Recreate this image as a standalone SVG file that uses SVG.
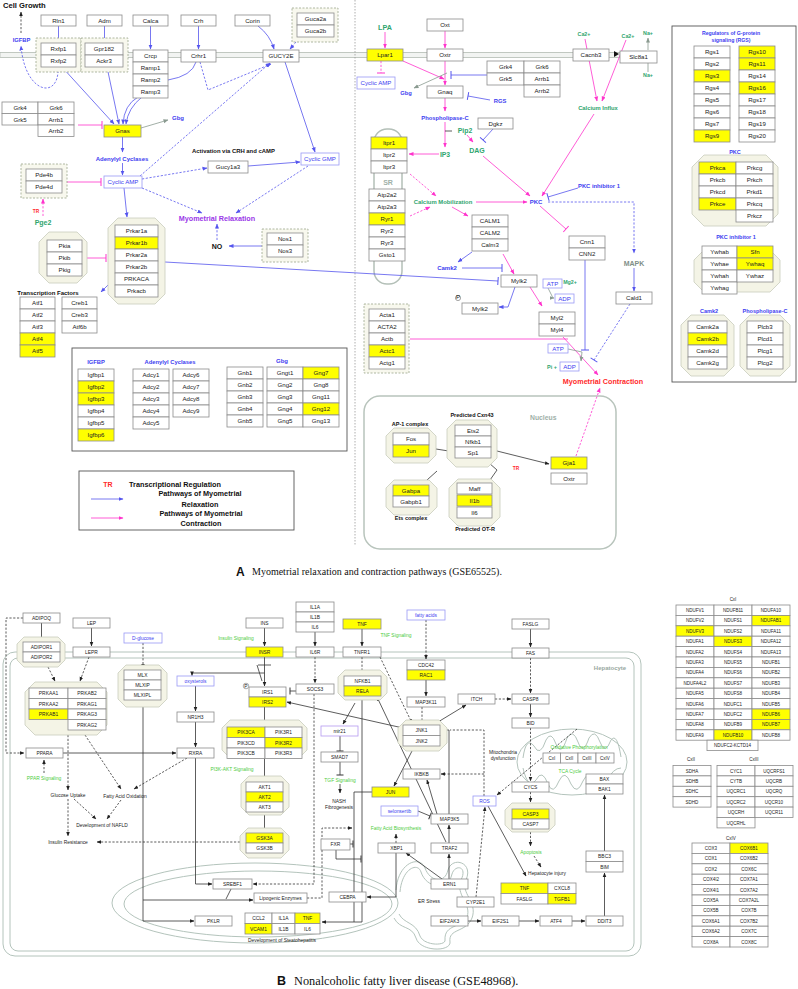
<svg xmlns="http://www.w3.org/2000/svg" width="798" height="989" viewBox="0 0 798 989">
<style>
text{font-family:"Liberation Sans",Arial,sans-serif}
.b{fill:#fff;stroke:#8c8c8c;stroke-width:.8}
.y{fill:#ffff00;stroke:#8c8c8c;stroke-width:.8}
.bl{fill:#fff;stroke:#9a9af5;stroke-width:.8}
.dg{fill:#f8f8ee;stroke:#9aa58a;stroke-width:.8;stroke-dasharray:2 1.5}
.oc{fill:#f4f4e6;stroke:#c9cdbd;stroke-width:.8}
.t{font-size:6.1px;text-anchor:middle;fill:#222}
.s{font-size:4.9px;text-anchor:middle;fill:#222}
.x{font-size:4.5px;text-anchor:middle;fill:#222}
.L{font-weight:bold;text-anchor:middle}
.cb{fill:#3d3df0}.cg{fill:#2fa56e}.cG{fill:#4ccc3c}.cp{fill:#9a38e8}.cr{fill:#ff2a2a}.cx{fill:#a0b0a8}.ck{fill:#111}
.e{fill:none;stroke-width:.8}
.eb{stroke:#5555ee}.em{stroke:#ff33cc}.ek{stroke:#333}.eg{stroke:#8a9a90}
.d{stroke-dasharray:2.2 1.6}
.mem{fill:none;stroke:#b4c4bc;stroke-width:1}
.cap{font-family:"Liberation Serif","Times New Roman",serif;fill:#111}
</style>
<defs>
<marker id="ab" viewBox="0 0 10 10" refX="9" refY="5" markerWidth="5" markerHeight="5" orient="auto" markerUnits="userSpaceOnUse"><path d="M0,1L10,5L0,9z" fill="#5555ee"/></marker>
<marker id="am" viewBox="0 0 10 10" refX="9" refY="5" markerWidth="5" markerHeight="5" orient="auto" markerUnits="userSpaceOnUse"><path d="M0,1L10,5L0,9z" fill="#ff33cc"/></marker>
<marker id="ak" viewBox="0 0 10 10" refX="9" refY="5" markerWidth="4.5" markerHeight="4.5" orient="auto" markerUnits="userSpaceOnUse"><path d="M0,1L10,5L0,9z" fill="#222"/></marker>
<marker id="ag" viewBox="0 0 10 10" refX="9" refY="5" markerWidth="5" markerHeight="5" orient="auto" markerUnits="userSpaceOnUse"><path d="M0,1L10,5L0,9z" fill="#8a9a90"/></marker>
<marker id="tb" viewBox="-2 -5 4 10" refX="0" refY="0" markerWidth="4" markerHeight="10" orient="auto" markerUnits="userSpaceOnUse"><path d="M0,-4V4" stroke="#5555ee" stroke-width="1"/></marker>
<marker id="tm" viewBox="-2 -5 4 10" refX="0" refY="0" markerWidth="4" markerHeight="10" orient="auto" markerUnits="userSpaceOnUse"><path d="M0,-4V4" stroke="#ff33cc" stroke-width="1"/></marker>
<marker id="tk" viewBox="-2 -5 4 10" refX="0" refY="0" markerWidth="4" markerHeight="10" orient="auto" markerUnits="userSpaceOnUse"><path d="M0,-3.5V3.5" stroke="#333" stroke-width="1"/></marker>
</defs>
<rect width="798" height="989" fill="#fff"/>

<!-- ===== PANEL A backgrounds ===== -->
<g id="A-background">
<rect x="0" y="52.5" width="620" height="5" fill="#f2f4f2" stroke="#b4bcb4" stroke-width=".8"/>
<line x1="355" y1="0" x2="355" y2="546" stroke="#999" stroke-width=".8" stroke-dasharray="1.5 1.5"/>
<rect x="72" y="348" width="275" height="103" fill="none" stroke="#555" stroke-width=".9"/>
<rect x="672" y="26" width="124" height="356" fill="none" stroke="#555" stroke-width=".9"/>
<rect x="364" y="396" width="252" height="153" rx="16" fill="none" stroke="#b8c4bc" stroke-width="1.5"/>
<rect x="374" y="129" width="28" height="155" rx="13" fill="none" stroke="#b4c0b8" stroke-width="1.5"/>
</g>

<!-- ===== PANEL A connectors ===== -->
<g id="A-connectors">
<path class="e eb" d="M58.5,26V42" marker-end="url(#ab)"/>
<path class="e eb" d="M104.5,26V42" marker-end="url(#ab)"/>
<path class="e eb" d="M150.5,26V49" marker-end="url(#ab)"/>
<path class="e eb" d="M198.5,26V49" marker-end="url(#ab)"/>
<path class="e eb" d="M258,26Q270,35 274,49" marker-end="url(#ab)"/>
<path class="e eb d" d="M296,42L290,49" marker-end="url(#ab)"/>
<path class="e eb" d="M62,67L114,124" marker-end="url(#ab)"/>
<path class="e eb" d="M107,67L119,124" marker-end="url(#ab)"/>
<path class="e eb" d="M138,97Q124,105 123,124" marker-end="url(#ab)"/>
<path class="e eb" d="M142,97Q128,108 126,124" marker-end="url(#ab)"/>
<path class="e eb" d="M168,80Q192,76 196,62"/>
<path class="e eb d" d="M200,62L208,90L271,64" marker-end="url(#ab)"/>
<path class="e eb d" d="M58,67C60,100 25,95 21,46" marker-end="url(#ab)"/>
<path class="e ek d" d="M21,33V12" marker-end="url(#ak)"/>
<path class="e eg" d="M141,128L168,120" marker-end="url(#ag)"/>
<path class="e em" d="M78,125H102" marker-end="url(#tm)"/>
<path class="e eb" d="M122.5,137V152" marker-end="url(#ab)"/>
<path class="e eb" d="M122.5,163V175" marker-end="url(#ab)"/>
<path class="e em" d="M67,182H101" marker-end="url(#tm)"/>
<path class="e em d" d="M43,216V199" marker-end="url(#am)"/>
<path class="e eb d" d="M142,179L207,168" marker-end="url(#ab)"/>
<path class="e eb d" d="M140,176L270,63" marker-end="url(#ab)"/>
<path class="e eb" d="M248,166L300,162" marker-end="url(#ab)"/>
<path class="e eb" d="M285,62L315,152" marker-end="url(#ab)"/>
<path class="e eb d" d="M308,166L236,213" marker-end="url(#ab)"/>
<path class="e eb d" d="M142,188L202,213" marker-end="url(#ab)"/>
<path class="e eb d" d="M217,240V224" marker-end="url(#ab)"/>
<path class="e eb" d="M262,246H229" marker-end="url(#ab)"/>
<path class="e eb" d="M124,188L127,217" marker-end="url(#ab)"/>
<path class="e em" d="M87,258H106" marker-end="url(#tm)"/>
<path class="e eb" d="M110,283L101,292" marker-end="url(#ab)"/>
<path class="e eb" d="M165,262L498,281" marker-end="url(#tb)"/>
<!-- right side -->
<path class="e em" d="M385,32V48" marker-end="url(#am)"/>
<path class="e em" d="M445,31V48" marker-end="url(#am)"/>
<path class="e em d" d="M381,61V73" marker-end="url(#tm)"/>
<path class="e em" d="M403,61L444,79" marker-end="url(#am)"/>
<path class="e em" d="M445,61V85" marker-end="url(#am)"/>
<path class="e eg" d="M447,73L414,88" marker-end="url(#ag)"/>
<path class="e eb" d="M487,75H451" marker-end="url(#tb)"/>
<path class="e eb" d="M490,100L468,96" marker-end="url(#tb)"/>
<path class="e em" d="M445,98V111" marker-end="url(#am)"/>
<path class="e em" d="M445,122V147" marker-end="url(#am)"/>
<path class="e ek" d="M445,131H452"/>
<path class="e em" d="M467,135L473,142" marker-end="url(#am)"/>
<path class="e eb" d="M493,129L483,140" marker-end="url(#tb)"/>
<path class="e em" d="M439,154H409" marker-end="url(#am)"/>
<path class="e em" d="M483,156L530,196" marker-end="url(#am)"/>
<path class="e em d" d="M410,174L436,196" marker-end="url(#am)"/>
<path class="e em d" d="M410,216L430,207" marker-end="url(#am)"/>
<path class="e em" d="M476,202H527" marker-end="url(#am)"/>
<path class="e em" d="M452,207L468,216" marker-end="url(#am)"/>
<path class="e eb" d="M472,252L458,262" marker-end="url(#ab)"/>
<path class="e eb" d="M462,268H502" marker-end="url(#tb)"/>
<path class="e em" d="M503,254L514,274" marker-end="url(#am)"/>
<path class="e eb" d="M515,287L508,307H499" marker-end="url(#ab)"/>
<path class="e em" d="M530,287L542,306" marker-end="url(#am)"/>
<path class="e eg" d="M548,288L553,298H554" marker-end="url(#ag)"/>
<path class="e em" d="M585,39L597,101" marker-end="url(#am)"/>
<path class="e em" d="M626,40L602,101" marker-end="url(#am)"/>
<path class="e em" d="M594,114L542,196" marker-end="url(#am)"/>
<path class="e eb" d="M578,188L548,197" marker-end="url(#tb)"/>
<path class="e em" d="M540,206L566,229" marker-end="url(#tm)"/>
<path class="e eb d" d="M548,202H634V253" marker-end="url(#ab)"/>
<path class="e eb" d="M634,268V291" marker-end="url(#ab)"/>
<path class="e eb d" d="M630,304L594,360" marker-end="url(#tb)"/>
<path class="e eb" d="M585,260V350" marker-end="url(#tb)"/>
<path class="e em" d="M563,337L598,375" marker-end="url(#am)"/>
<path class="e em" d="M410,339H568"/>
<path class="e eg" d="M568,349L582,352L581,361" marker-end="url(#ag)"/>
<path class="e em d" d="M576,456L600,388" marker-end="url(#am)"/>
<path class="e ek" d="M436,449L455,452"/>
<path class="e ek" d="M497,451L549,464" marker-end="url(#ak)"/>
<path class="e ek" d="M489,463L497,470L490,480"/>
<path class="e ek" d="M427,480L437,471"/>
<path class="e eg" d="M648,50V38" marker-end="url(#ag)"/>
<path class="e eg" d="M648,72V63"/>
<polygon points="614,51 619,54 614,57" fill="#111"/>
</g>

<!-- ===== PANEL A nodes (left) ===== -->
<g id="Rln1"><rect class="b" x="41" y="15" width="35" height="11"/><text class="t" x="58.5" y="22.7">Rln1</text></g>
<g id="Adm"><rect class="b" x="87" y="15" width="35" height="11"/><text class="t" x="104.5" y="22.7">Adm</text></g>
<g id="Calca"><rect class="b" x="133" y="15" width="35" height="11"/><text class="t" x="150.5" y="22.7">Calca</text></g>
<g id="Crh"><rect class="b" x="181" y="15" width="35" height="11"/><text class="t" x="198.5" y="22.7">Crh</text></g>
<g id="Corin"><rect class="b" x="235" y="15" width="35" height="11"/><text class="t" x="252.5" y="22.7">Corin</text></g>
<g id="Rxfp"><rect class="dg" x="36" y="38" width="45" height="34"/><rect class="b" x="41" y="43" width="35" height="12"/><text class="t" x="58.5" y="51.2">Rxfp1</text><rect class="b" x="41" y="55" width="35" height="12"/><text class="t" x="58.5" y="63.2">Rxfp2</text></g>
<g id="Gpr182"><rect class="dg" x="81" y="38" width="47" height="34"/><rect class="b" x="85" y="43" width="38" height="12"/><text class="t" x="104" y="51.2">Gpr182</text><rect class="b" x="85" y="55" width="38" height="12"/><text class="t" x="104" y="63.2">Ackr3</text></g>
<g id="Crcp"><rect class="b" x="133" y="50" width="35" height="12"/><text class="t" x="150.5" y="58.2">Crcp</text><rect class="b" x="133" y="62" width="35" height="12"/><text class="t" x="150.5" y="70.2">Ramp1</text><rect class="b" x="133" y="74" width="35" height="12"/><text class="t" x="150.5" y="82.2">Ramp2</text><rect class="b" x="133" y="86" width="35" height="12"/><text class="t" x="150.5" y="94.2">Ramp3</text></g>
<g id="Crhr1"><rect class="b" x="181" y="50" width="35" height="12"/><text class="t" x="198.5" y="58.2">Crhr1</text></g>
<g id="GUCY2E"><rect class="b" x="263" y="50" width="36" height="12"/><text class="t" x="281" y="58.2">GUCY2E</text></g>
<g id="Guca2"><rect class="dg" x="292" y="8" width="46" height="34"/><rect class="b" x="297" y="13" width="37" height="12"/><text class="t" x="315.5" y="21.2">Guca2a</text><rect class="b" x="297" y="25" width="37" height="12"/><text class="t" x="315.5" y="33.2">Guca2b</text></g>
<g id="Grk-left"><rect class="b" x="2" y="102" width="36" height="11.5"/><text class="t" x="20" y="110">Grk4</text><rect class="b" x="38" y="102" width="36" height="11.5"/><text class="t" x="56" y="110">Grk6</text><rect class="b" x="2" y="113.5" width="36" height="11.5"/><text class="t" x="20" y="121.5">Grk5</text><rect class="b" x="38" y="113.5" width="36" height="11.5"/><text class="t" x="56" y="121.5">Arrb1</text><rect class="b" x="38" y="125" width="36" height="11.5"/><text class="t" x="56" y="133">Arrb2</text></g>
<g id="Gnas"><rect class="y" x="104" y="125" width="37" height="12"/><text class="t" x="122.5" y="133.2">Gnas</text></g>
<g id="CyclicAMP-left"><rect class="bl" x="104" y="176" width="38" height="12"/><text class="t cb" x="123" y="184.2">Cyclic AMP</text></g>
<g id="Pde4"><rect class="dg" x="21" y="164" width="46" height="34"/><rect class="b" x="26" y="169" width="36" height="12"/><text class="t" x="44" y="177.2">Pde4b</text><rect class="b" x="26" y="181" width="36" height="12"/><text class="t" x="44" y="189.2">Pde4d</text></g>
<g id="Gucy1a3"><rect class="b" x="208" y="161" width="40" height="12"/><text class="t" x="228" y="169.2">Gucy1a3</text></g>
<g id="CyclicGMP"><rect class="bl" x="301" y="153" width="38" height="12"/><text class="t cb" x="320" y="161.2">Cyclic GMP</text></g>
<g id="Nos"><rect class="dg" x="262" y="229" width="46" height="33"/><rect class="b" x="267" y="233" width="36" height="12"/><text class="t" x="285" y="241.2">Nos1</text><rect class="b" x="267" y="245" width="36" height="12"/><text class="t" x="285" y="253.2">Nos3</text></g>
<g id="PKA"><polygon class="oc" points="118,218 155,218 165,228 165,294 155,304 118,304 108,294 108,228"/>
<rect class="b" x="115" y="225" width="43" height="12"/><text class="t" x="136.5" y="233.2">Prkar1a</text>
<rect class="y" x="115" y="237" width="43" height="12"/><text class="t" x="136.5" y="245.2">Prkar1b</text>
<rect class="b" x="115" y="249" width="43" height="12"/><text class="t" x="136.5" y="257.2">Prkar2a</text>
<rect class="b" x="115" y="261" width="43" height="12"/><text class="t" x="136.5" y="269.2">Prkar2b</text>
<rect class="b" x="115" y="273" width="43" height="12"/><text class="t" x="136.5" y="281.2">PRKACA</text>
<rect class="b" x="115" y="285" width="43" height="12"/><text class="t" x="136.5" y="293.2">Prkacb</text></g>
<g id="Pki"><polygon class="oc" points="49,232 77,232 87,242 87,273 77,283 49,283 39,273 39,242"/>
<rect class="b" x="47" y="240" width="35" height="12"/><text class="t" x="64.5" y="248.2">Pkia</text>
<rect class="b" x="47" y="252" width="35" height="12"/><text class="t" x="64.5" y="260.2">Pkib</text>
<rect class="b" x="47" y="264" width="35" height="12"/><text class="t" x="64.5" y="272.2">Pkig</text></g>
<g id="TranscriptionFactors"><text class="L ck" x="48" y="295" font-size="6">Transcription Factors</text>
<rect class="b" x="20" y="297" width="35" height="12"/><text class="t" x="37.5" y="305.2">Atf1</text>
<rect class="b" x="20" y="309" width="35" height="12"/><text class="t" x="37.5" y="317.2">Atf2</text>
<rect class="b" x="20" y="321" width="35" height="12"/><text class="t" x="37.5" y="329.2">Atf3</text>
<rect class="y" x="20" y="333" width="35" height="12"/><text class="t" x="37.5" y="341.2">Atf4</text>
<rect class="y" x="20" y="345" width="35" height="12"/><text class="t" x="37.5" y="353.2">Atf5</text>
<rect class="b" x="62" y="297" width="35" height="12"/><text class="t" x="79.5" y="305.2">Creb1</text>
<rect class="b" x="62" y="309" width="35" height="12"/><text class="t" x="79.5" y="317.2">Creb3</text>
<rect class="b" x="62" y="321" width="35" height="12"/><text class="t" x="79.5" y="329.2">Atf6b</text></g>
<g id="IGFBP-table"><text class="L cb" x="96" y="364" font-size="5.8">IGFBP</text>
<rect class="b" x="78" y="369" width="36" height="12"/><text class="t" x="96" y="377.2">Igfbp1</text>
<rect class="y" x="78" y="381" width="36" height="12"/><text class="t" x="96" y="389.2">Igfbp2</text>
<rect class="y" x="78" y="393" width="36" height="12"/><text class="t" x="96" y="401.2">Igfbp3</text>
<rect class="b" x="78" y="405" width="36" height="12"/><text class="t" x="96" y="413.2">Igfbp4</text>
<rect class="b" x="78" y="417" width="36" height="12"/><text class="t" x="96" y="425.2">Igfbp5</text>
<rect class="y" x="78" y="429" width="36" height="12"/><text class="t" x="96" y="437.2">Igfbp6</text></g>
<g id="Adcy-table"><text class="L cb" x="170" y="364" font-size="5.8">Adenylyl  Cyclases</text>
<rect class="b" x="133" y="369" width="36" height="12"/><text class="t" x="151" y="377.2">Adcy1</text>
<rect class="b" x="133" y="381" width="36" height="12"/><text class="t" x="151" y="389.2">Adcy2</text>
<rect class="b" x="133" y="393" width="36" height="12"/><text class="t" x="151" y="401.2">Adcy3</text>
<rect class="b" x="133" y="405" width="36" height="12"/><text class="t" x="151" y="413.2">Adcy4</text>
<rect class="b" x="133" y="417" width="36" height="12"/><text class="t" x="151" y="425.2">Adcy5</text>
<rect class="b" x="173" y="369" width="36" height="12"/><text class="t" x="191" y="377.2">Adcy6</text>
<rect class="b" x="173" y="381" width="36" height="12"/><text class="t" x="191" y="389.2">Adcy7</text>
<rect class="b" x="173" y="393" width="36" height="12"/><text class="t" x="191" y="401.2">Adcy8</text>
<rect class="b" x="173" y="405" width="36" height="12"/><text class="t" x="191" y="413.2">Adcy9</text></g>
<g id="Gbg-table"><text class="L cb" x="282" y="363" font-size="6">Gbg</text>
<rect class="b" x="227" y="367" width="36" height="12"/><text class="t" x="245" y="375.2">Gnb1</text>
<rect class="b" x="227" y="379" width="36" height="12"/><text class="t" x="245" y="387.2">Gnb2</text>
<rect class="b" x="227" y="391" width="36" height="12"/><text class="t" x="245" y="399.2">Gnb3</text>
<rect class="b" x="227" y="403" width="36" height="12"/><text class="t" x="245" y="411.2">Gnb4</text>
<rect class="b" x="227" y="415" width="36" height="12"/><text class="t" x="245" y="423.2">Gnb5</text>
<rect class="b" x="267" y="367" width="36" height="12"/><text class="t" x="285" y="375.2">Gngt1</text>
<rect class="b" x="267" y="379" width="36" height="12"/><text class="t" x="285" y="387.2">Gng2</text>
<rect class="b" x="267" y="391" width="36" height="12"/><text class="t" x="285" y="399.2">Gng3</text>
<rect class="b" x="267" y="403" width="36" height="12"/><text class="t" x="285" y="411.2">Gng4</text>
<rect class="b" x="267" y="415" width="36" height="12"/><text class="t" x="285" y="423.2">Gng5</text>
<rect class="y" x="303" y="367" width="36" height="12"/><text class="t" x="321" y="375.2">Gng7</text>
<rect class="b" x="303" y="379" width="36" height="12"/><text class="t" x="321" y="387.2">Gng8</text>
<rect class="b" x="303" y="391" width="36" height="12"/><text class="t" x="321" y="399.2">Gng11</text>
<rect class="y" x="303" y="403" width="36" height="12"/><text class="t" x="321" y="411.2">Gng12</text>
<rect class="b" x="303" y="415" width="36" height="12"/><text class="t" x="321" y="423.2">Gng13</text></g>
<g id="Legend"><rect x="79" y="471" width="215" height="59" fill="#fff" stroke="#555" stroke-width=".9"/>
<text class="L cr" x="108" y="486.5" font-size="7">TR</text>
<text x="129" y="487" font-size="7.3" font-weight="bold" fill="#111">Transcriptional Regulation</text>
<path class="e eb" d="M91,499H123" marker-end="url(#ab)"/>
<text class="L ck" x="200" y="495.5" font-size="7.3">Pathways of Myometrial</text>
<text class="L ck" x="200" y="506.5" font-size="7.3">Relaxation</text>
<path class="e em" d="M91,518H123" marker-end="url(#am)"/>
<text class="L ck" x="201" y="515.5" font-size="7.3">Pathways of Myometrial</text>
<text class="L ck" x="201" y="526" font-size="7.3">Contraction</text></g>

<!-- panel A left labels -->
<g id="A-left-labels">
<text x="3" y="8" font-size="7.6" font-weight="bold" fill="#111">Cell Growth</text>
<text class="L cb" x="21.5" y="41.5" font-size="5.8">IGFBP</text>
<text class="L cb" x="178" y="119.5" font-size="6">Gbg</text>
<text class="L cb" x="122" y="160.5" font-size="6">Adenylyl Cyclases</text>
<text x="192" y="153" font-size="5.9" font-weight="bold" fill="#111">Activation via CRH and cAMP</text>
<text class="L cp" x="217" y="220.5" font-size="7.2">Myometrial Relaxation</text>
<text class="L ck" x="217" y="248.5" font-size="7">NO</text>
<text class="L cr" x="36" y="213" font-size="4.8">TR</text>
<text class="L cg" x="43" y="224.8" font-size="7">Pge2</text>
</g>

<!-- ===== PANEL A nodes (right) ===== -->
<g id="Lpar1"><rect class="y" x="367" y="49" width="36" height="12"/><text class="t" x="385" y="57.2">Lpar1</text></g>
<g id="Oxt"><rect class="b" x="427" y="19" width="36" height="12"/><text class="t" x="445" y="27.2">Oxt</text></g>
<g id="Oxtr"><rect class="b" x="427" y="49" width="36" height="12"/><text class="t" x="445" y="57.2">Oxtr</text></g>
<g id="CyclicAMP-right"><rect class="bl" x="357" y="77" width="38" height="12"/><text class="t cb" x="376" y="85.2">Cyclic AMP</text></g>
<g id="Grk-right"><rect class="b" x="487" y="61" width="37" height="12"/><text class="t" x="505.5" y="69.2">Grk4</text><rect class="b" x="487" y="73" width="37" height="12"/><text class="t" x="505.5" y="81.2">Grk5</text><rect class="b" x="524" y="61" width="36" height="12"/><text class="t" x="542" y="69.2">Grk6</text><rect class="b" x="524" y="73" width="36" height="12"/><text class="t" x="542" y="81.2">Arrb1</text><rect class="b" x="524" y="85" width="36" height="12"/><text class="t" x="542" y="93.2">Arrb2</text></g>
<g id="Gnaq"><rect class="b" x="427" y="86" width="36" height="12"/><text class="t" x="445" y="94.2">Gnaq</text></g>
<g id="Dgkz"><rect class="b" x="478" y="118" width="35" height="11"/><text class="t" x="495.5" y="125.7">Dgkz</text></g>
<g id="Itpr"><rect class="y" x="371" y="137" width="36" height="12"/><text class="t" x="389" y="145.2">Itpr1</text><rect class="b" x="371" y="149" width="36" height="12"/><text class="t" x="389" y="157.2">Itpr2</text><rect class="b" x="371" y="161" width="36" height="12"/><text class="t" x="389" y="169.2">Itpr3</text></g>
<g id="SR-proteins"><rect class="b" x="369" y="189" width="36" height="12"/><text class="t" x="387" y="197.2">Atp2a2</text><rect class="b" x="369" y="201" width="36" height="12"/><text class="t" x="387" y="209.2">Atp2a3</text><rect class="y" x="369" y="213" width="36" height="12"/><text class="t" x="387" y="221.2">Ryr1</text><rect class="b" x="369" y="225" width="36" height="12"/><text class="t" x="387" y="233.2">Ryr2</text><rect class="b" x="369" y="237" width="36" height="12"/><text class="t" x="387" y="245.2">Ryr3</text><rect class="b" x="369" y="249" width="36" height="12"/><text class="t" x="387" y="257.2">Gsto1</text></g>
<g id="CALM"><rect class="b" x="472" y="215" width="36" height="12"/><text class="t" x="490" y="223.2">CALM1</text><rect class="b" x="472" y="227" width="36" height="12"/><text class="t" x="490" y="235.2">CALM2</text><rect class="b" x="472" y="239" width="36" height="12"/><text class="t" x="490" y="247.2">Calm3</text></g>
<g id="Cacnb3"><rect class="b" x="573" y="49" width="36" height="12"/><text class="t" x="591" y="57.2">Cacnb3</text></g>
<g id="Slc8a1"><rect class="b" x="620" y="51" width="37" height="12"/><text class="t" x="638.5" y="59.2">Slc8a1</text></g>
<g id="Cnn"><rect class="b" x="569" y="236" width="36" height="12"/><text class="t" x="587" y="244.2">Cnn1</text><rect class="b" x="569" y="248" width="36" height="12"/><text class="t" x="587" y="256.2">CNN2</text></g>
<g id="Mylk2"><rect class="b" x="501" y="275" width="36" height="12"/><text class="t" x="519" y="283.2">Mylk2</text></g>
<g id="Mylk2-P"><rect class="b" x="462" y="303" width="36" height="11"/><text class="t" x="480" y="310.7">Mylk2</text><circle cx="458" cy="298" r="2.6" fill="#fff" stroke="#666" stroke-width=".6"/><text class="t" x="458" y="299.4" font-size="3.6">P</text></g>
<g id="ATP1"><rect class="bl" x="543" y="279" width="19" height="9"/><text class="t cb" x="552.5" y="285.6" font-size="5.3">ATP</text></g>
<g id="ADP1"><rect class="bl" x="555" y="294" width="19" height="9"/><text class="t cb" x="564.5" y="300.6" font-size="5.3">ADP</text></g>
<g id="Myl"><rect class="b" x="539" y="312" width="36" height="12"/><text class="t" x="557" y="320.2">Myl2</text><rect class="b" x="539" y="324" width="36" height="12"/><text class="t" x="557" y="332.2">Myl4</text></g>
<g id="Cald1"><rect class="b" x="616" y="292" width="36" height="12"/><text class="t" x="634" y="300.2">Cald1</text></g>
<g id="ATP2"><rect class="bl" x="548" y="344" width="20" height="9"/><text class="t cb" x="558" y="350.6" font-size="5.3">ATP</text></g>
<g id="ADP2"><rect class="bl" x="560" y="362" width="19" height="9"/><text class="t cb" x="569.5" y="368.6" font-size="5.3">ADP</text></g>
<g id="Actin"><rect class="dg" x="364" y="304" width="45" height="69"/><rect class="b" x="369" y="309" width="36" height="12"/><text class="t" x="387" y="317.2">Acta1</text><rect class="b" x="369" y="321" width="36" height="12"/><text class="t" x="387" y="329.2">ACTA2</text><rect class="b" x="369" y="333" width="36" height="12"/><text class="t" x="387" y="341.2">Actb</text><rect class="y" x="369" y="345" width="36" height="12"/><text class="t" x="387" y="353.2">Actc1</text><rect class="b" x="369" y="357" width="36" height="12"/><text class="t" x="387" y="365.2">Actg1</text></g>
<g id="AP1"><polygon class="oc" points="394,428 428,428 436,436 436,455 428,463 394,463 386,455 386,436"/><rect class="b" x="393" y="433" width="36" height="12"/><text class="t" x="411" y="441.2">Fos</text><rect class="y" x="393" y="445" width="36" height="12"/><text class="t" x="411" y="453.2">Jun</text><text class="L ck" x="410" y="426" font-size="5.5">AP-1 complex</text></g>
<g id="Cxn43"><polygon class="oc" points="456,420 488,420 497,429 497,458 488,467 456,467 447,458 447,429"/><rect class="b" x="455" y="425" width="36" height="11"/><text class="t" x="473" y="432.7">Ets2</text><rect class="b" x="455" y="436" width="36" height="11"/><text class="t" x="473" y="443.7">Nfkb1</text><rect class="b" x="455" y="447" width="36" height="11"/><text class="t" x="473" y="454.7">Sp1</text><text class="L ck" x="472" y="417" font-size="5.5">Predicted Cxn43</text></g>
<g id="Ets"><polygon class="oc" points="394,480 429,480 437,488 437,507 429,515 394,515 386,507 386,488"/><rect class="y" x="393" y="485" width="36" height="11"/><text class="t" x="411" y="492.7">Gabpa</text><rect class="b" x="393" y="496" width="36" height="11"/><text class="t" x="411" y="503.7">Gabpb1</text><text class="L ck" x="411" y="520" font-size="5.5">Ets complex</text></g>
<g id="OTR"><polygon class="oc" points="458,479 491,479 500,488 500,517 491,526 458,526 449,517 449,488"/><rect class="b" x="457" y="483" width="35" height="11"/><text class="t" x="474.5" y="490.7">Maff</text><rect class="y" x="457" y="495" width="35" height="11"/><text class="t" x="474.5" y="502.7">Il1b</text><rect class="b" x="457" y="507" width="35" height="11"/><text class="t" x="474.5" y="514.7">Il6</text><text class="L ck" x="475" y="531" font-size="5.5">Predicted OT-R</text></g>
<g id="Gja1"><rect class="y" x="551" y="457" width="36" height="12"/><text class="t" x="569" y="465.2">Gja1</text></g>
<g id="Oxtr-nucleus"><rect class="b" x="551" y="473" width="36" height="11"/><text class="t" x="569" y="480.7">Oxtr</text></g>

<g id="A-right-labels">
<text class="L cg" x="385" y="30" font-size="7.2">LPA</text>
<text class="L cb" x="406" y="94.5" font-size="5.8">Gbg</text>
<text class="L cb" x="500" y="103" font-size="5.8">RGS</text>
<text class="L cb" x="445" y="119.5" font-size="5.8">Phospholipase-C</text>
<text class="L cg" x="465" y="132.5" font-size="6.8">Pip2</text>
<text class="L cg" x="477" y="152.5" font-size="7">DAG</text>
<text class="L cg" x="445" y="156.5" font-size="6.8">IP3</text>
<text class="L cx" x="388" y="184.5" font-size="7">SR</text>
<text class="L cg" x="443" y="204" font-size="5.9">Calcium Mobilization</text>
<text class="L cb" x="536" y="204" font-size="6">PKC</text>
<text class="L cb" x="447" y="270" font-size="6">Camk2</text>
<text class="L cg" x="584" y="36" font-size="5.3">Ca2+</text>
<text class="L cg" x="628" y="38" font-size="5.3">Ca2+</text>
<text class="L cg" x="648" y="35" font-size="5.3">Na+</text>
<text class="L cg" x="648" y="77" font-size="5.3">Na+</text>
<text class="L cg" x="598" y="110" font-size="5.8">Calcium Influx</text>
<text class="L cb" x="599" y="188" font-size="5.8">PKC inhibitor 1</text>
<text class="L" x="634" y="265.5" font-size="7" fill="#7f8f88">MAPK</text>
<text class="L cg" x="570" y="284" font-size="5.3">Mg2+</text>
<text class="L cg" x="552" y="369" font-size="5.5">Pi +</text>
<text class="L cr" x="603" y="383.5" font-size="7.2">Myometrial Contraction</text>
<text x="530" y="419.5" font-size="6.8" font-weight="bold" fill="#a0b0a8">Nucleus</text>
<text class="L cr" x="516" y="469.5" font-size="4.8">TR</text>
</g>

<!-- right box -->
<g id="RGS"><text class="L cb" x="731" y="35" font-size="5.2">Regulators of G-protein</text><text class="L cb" x="731" y="42" font-size="5.2">signaling (RGS)</text>
<rect class="b" x="694" y="46" width="36" height="12"/><text class="t" x="712" y="54.2">Rgs1</text>
<rect class="b" x="694" y="58" width="36" height="12"/><text class="t" x="712" y="66.2">Rgs2</text>
<rect class="y" x="694" y="70" width="36" height="12"/><text class="t" x="712" y="78.2">Rgs3</text>
<rect class="b" x="694" y="82" width="36" height="12"/><text class="t" x="712" y="90.2">Rgs4</text>
<rect class="b" x="694" y="94" width="36" height="12"/><text class="t" x="712" y="102.2">Rgs5</text>
<rect class="b" x="694" y="106" width="36" height="12"/><text class="t" x="712" y="114.2">Rgs6</text>
<rect class="b" x="694" y="118" width="36" height="12"/><text class="t" x="712" y="126.2">Rgs7</text>
<rect class="y" x="694" y="130" width="36" height="12"/><text class="t" x="712" y="138.2">Rgs9</text>
<rect class="y" x="739" y="46" width="36" height="12"/><text class="t" x="757" y="54.2">Rgs10</text>
<rect class="y" x="739" y="58" width="36" height="12"/><text class="t" x="757" y="66.2">Rgs11</text>
<rect class="b" x="739" y="70" width="36" height="12"/><text class="t" x="757" y="78.2">Rgs14</text>
<rect class="y" x="739" y="82" width="36" height="12"/><text class="t" x="757" y="90.2">Rgs16</text>
<rect class="b" x="739" y="94" width="36" height="12"/><text class="t" x="757" y="102.2">Rgs17</text>
<rect class="b" x="739" y="106" width="36" height="12"/><text class="t" x="757" y="114.2">Rgs18</text>
<rect class="b" x="739" y="118" width="36" height="12"/><text class="t" x="757" y="126.2">Rgs19</text>
<rect class="b" x="739" y="130" width="36" height="12"/><text class="t" x="757" y="138.2">Rgs20</text></g>
<g id="PKC"><text class="L cb" x="735" y="154" font-size="5.5">PKC</text><polygon class="oc" points="704,155 766,155 778,167 778,214 766,226 704,226 692,214 692,167"/>
<rect class="y" x="699" y="162" width="37" height="12"/><text class="t" x="717.5" y="170.2">Prkca</text>
<rect class="b" x="699" y="174" width="37" height="12"/><text class="t" x="717.5" y="182.2">Prkcb</text>
<rect class="b" x="699" y="186" width="37" height="12"/><text class="t" x="717.5" y="194.2">Prkcd</text>
<rect class="y" x="699" y="198" width="37" height="12"/><text class="t" x="717.5" y="206.2">Prkce</text>
<rect class="b" x="736" y="162" width="37" height="12"/><text class="t" x="754.5" y="170.2">Prkcg</text>
<rect class="b" x="736" y="174" width="37" height="12"/><text class="t" x="754.5" y="182.2">Prkch</text>
<rect class="b" x="736" y="186" width="37" height="12"/><text class="t" x="754.5" y="194.2">Prkd1</text>
<rect class="b" x="736" y="198" width="37" height="12"/><text class="t" x="754.5" y="206.2">Prkcq</text>
<rect class="b" x="736" y="210" width="37" height="12"/><text class="t" x="754.5" y="218.2">Prkcz</text></g>
<g id="PKC-inhibitor-1"><text class="L cb" x="736" y="239" font-size="5.5">PKC inhibitor 1</text><polygon class="oc" points="704,250 770,250 780,260 780,282 770,292 704,292 694,282 694,260"/>
<rect class="b" x="702" y="246" width="35" height="12"/><text class="t" x="719.5" y="254.2">Ywhab</text>
<rect class="b" x="702" y="258" width="35" height="12"/><text class="t" x="719.5" y="266.2">Ywhae</text>
<rect class="b" x="702" y="270" width="35" height="12"/><text class="t" x="719.5" y="278.2">Ywhah</text>
<rect class="b" x="702" y="282" width="35" height="12"/><text class="t" x="719.5" y="290.2">Ywhag</text>
<rect class="y" x="737" y="246" width="36" height="12"/><text class="t" x="755" y="254.2">Sfn</text>
<rect class="y" x="737" y="258" width="36" height="12"/><text class="t" x="755" y="266.2">Ywhaq</text>
<rect class="b" x="737" y="270" width="36" height="12"/><text class="t" x="755" y="278.2">Ywhaz</text></g>
<g id="Camk2-box"><text class="L cb" x="709" y="313" font-size="5.5">Camk2</text><polygon class="oc" points="691,315 724,315 734,325 734,366 724,376 691,376 681,366 681,325"/>
<rect class="b" x="688" y="321" width="39" height="12"/><text class="t" x="707.5" y="329.2">Camk2a</text>
<rect class="y" x="688" y="333" width="39" height="12"/><text class="t" x="707.5" y="341.2">Camk2b</text>
<rect class="b" x="688" y="345" width="39" height="12"/><text class="t" x="707.5" y="353.2">Camk2d</text>
<rect class="b" x="688" y="357" width="39" height="12"/><text class="t" x="707.5" y="365.2">Camk2g</text></g>
<g id="PLC-box"><text class="L cb" x="765" y="313" font-size="5.5">Phospholipase-C</text><polygon class="oc" points="750,315 780,315 790,325 790,366 780,376 750,376 740,366 740,325"/>
<rect class="b" x="747" y="321" width="36" height="12"/><text class="t" x="765" y="329.2">Plcb3</text>
<rect class="b" x="747" y="333" width="36" height="12"/><text class="t" x="765" y="341.2">Plcd1</text>
<rect class="b" x="747" y="345" width="36" height="12"/><text class="t" x="765" y="353.2">Plcg1</text>
<rect class="b" x="747" y="357" width="36" height="12"/><text class="t" x="765" y="365.2">Plcg2</text></g>

<g id="caption-A"><text x="236" y="576" font-size="12" font-weight="bold" fill="#111">A</text><text class="cap" x="252" y="575" font-size="10">Myometrial relaxation and contraction pathways (GSE65525).</text></g>

<!-- ===== PANEL B backgrounds ===== -->
<g id="B-background">
<rect x="3" y="652" width="638" height="304" rx="12" class="mem"/>
<rect x="10" y="658" width="624" height="293" rx="8" class="mem"/>
<ellipse cx="255" cy="903" rx="143" ry="40" class="mem"/>
<ellipse cx="258" cy="904" rx="134" ry="33" class="mem"/>
<path class="mem" d="M396,890C398,862 420,855 425,868C430,882 445,884 448,870C452,856 474,862 466,880C460,893 478,902 472,918C466,933 448,928 450,942C451,952 420,952 416,938C412,925 400,930 394,918"/>
<path class="mem" d="M400,892C402,868 418,862 421,872C426,888 448,892 452,874C455,864 468,866 461,880C455,895 472,904 467,917C462,928 444,924 445,940C446,946 424,946 420,936C416,922 404,924 399,914"/>
<ellipse cx="572" cy="762" rx="55" ry="33" fill="#fff" class="mem" stroke-width="1.2"/>
<path class="mem" d="M523,758Q526,736 534,746Q540,758 546,740Q551,730 556,744Q561,757 567,738Q573,728 578,742Q583,756 589,738Q595,728 600,742Q605,756 611,740Q617,732 621,757"/>
<path class="mem" d="M523,768Q528,790 536,780Q542,768 548,784Q553,796 559,781Q565,768 571,784Q577,796 583,781Q589,768 595,784Q601,796 607,781Q613,768 621,768"/>
</g>

<!-- ===== PANEL B connectors ===== -->
<g id="B-connectors">
<path class="e ek d" d="M23,618H6V753H24" marker-end="url(#ak)"/>
<path class="e ek" d="M41.5,623V641" marker-end="url(#ak)"/>
<path class="e ek" d="M91.5,628V646" marker-end="url(#ak)"/>
<path class="e ek d" d="M143,643V668" marker-end="url(#ak)"/>
<path class="e ek d" d="M48,667L55,681" marker-end="url(#ak)"/>
<path class="e ek d" d="M89,657L80,681" marker-end="url(#ak)"/>
<path class="e ek d" d="M44,773V760" marker-end="url(#ak)"/>
<path class="e ek" d="M63,753H176" marker-end="url(#ak)"/>
<path class="e ek" d="M195.5,686V711" marker-end="url(#ak)"/>
<path class="e ek" d="M195.5,722V747" marker-end="url(#ak)"/>
<path class="e ek" d="M264.5,673H192V675.5" marker-end="url(#ak)"/>
<path class="e ek" d="M264.5,657V686" marker-end="url(#ak)"/>
<path class="e ek" d="M258,665H271M257,665L262,681"/>
<path class="e ek d" d="M68,735V790" marker-end="url(#ak)"/>
<path class="e ek d" d="M85,735L121,789" marker-end="url(#ak)"/>
<path class="e ek d" d="M187,758L134,789" marker-end="url(#ak)"/>
<path class="e ek d" d="M74,799L96,819" marker-end="url(#ak)"/>
<path class="e ek d" d="M121,800L107,819" marker-end="url(#ak)"/>
<path class="e ek d" d="M68,799V836" marker-end="url(#ak)"/>
<path class="e ek d" d="M240,842H97" marker-end="url(#ak)"/>
<path class="e ek" d="M143,707V921H194" marker-end="url(#ak)"/>
<path class="e ek" d="M143,900H253" marker-end="url(#ak)"/>
<path class="e ek" d="M195.5,758V884H212" marker-end="url(#ak)"/>
<path class="e ek" d="M231,889L226,899"/>
<path class="e ek d" d="M314,694V884H253" marker-end="url(#ak)"/>
<path class="e ek" d="M315,632V646" marker-end="url(#ak)"/>
<path class="e ek d" d="M315,657V683" marker-end="url(#ak)"/>
<path class="e ek" d="M296,691H290" marker-end="url(#tk)"/>
<path class="e ek" d="M362,629V646" marker-end="url(#ak)"/>
<path class="e ek d" d="M362,657V675" marker-end="url(#ak)"/>
<path class="e ek d" d="M380,657L412,723" marker-end="url(#ak)"/>
<path class="e ek d" d="M426,620V659" marker-end="url(#ak)"/>
<path class="e ek" d="M426,680V696" marker-end="url(#ak)"/>
<path class="e ek d" d="M422,707V724" marker-end="url(#ak)"/>
<path class="e ek" d="M355,703L343,724" marker-end="url(#ak)"/>
<path class="e ek" d="M340,736V751" marker-end="url(#tk)"/>
<path class="e ek" d="M340,762V775" marker-end="url(#tk)"/>
<path class="e ek" d="M340,784V793" marker-end="url(#ak)"/>
<path class="e ek" d="M362,700V922H322" marker-end="url(#ak)"/>
<path class="e ek" d="M372,792H354V922"/>
<path class="e ek" d="M350,844H353" marker-end="url(#tk)"/>
<path class="e ek" d="M336,850V859H361" marker-end="url(#tk)"/>
<path class="e ek d" d="M307,898H322V828H352" marker-end="url(#ak)"/>
<path class="e ek" d="M403,728L287,702" marker-end="url(#ak)"/>
<path class="e ek" d="M438,722L466,705" marker-end="url(#ak)"/>
<path class="e ek d" d="M495,699H511" marker-end="url(#ak)"/>
<path class="e ek" d="M412,751L394,786" marker-end="url(#ak)"/>
<path class="e ek" d="M446,842L377,697" marker-end="url(#ak)"/>
<path class="e ek" d="M437,814L427,780" marker-end="url(#ak)"/>
<path class="e ek" d="M449,814V730H441" marker-end="url(#ak)"/>
<path class="e ek d" d="M484,796V730H450"/>
<path class="e ek d" d="M484,774H441" marker-end="url(#ak)"/>
<path class="e ek" d="M418,811L430,816" marker-end="url(#tk)"/>
<path class="e ek" d="M449,843V825" marker-end="url(#ak)"/>
<path class="e ek" d="M449,879V854" marker-end="url(#ak)"/>
<path class="e ek" d="M442,879L406,853" marker-end="url(#ak)"/>
<path class="e ek d" d="M396,843V834" marker-end="url(#ak)"/>
<path class="e ek" d="M396,853V897H367" marker-end="url(#ak)"/>
<path class="e ek d" d="M476,897L485,807" marker-end="url(#ak)"/>
<path class="e ek" d="M488,806L526,876" marker-end="url(#ak)"/>
<path class="e ek d" d="M577,729L497,795" marker-end="url(#ak)"/>
<path class="e ek" d="M468,921H481" marker-end="url(#ak)"/>
<path class="e ek" d="M519,921H539" marker-end="url(#ak)"/>
<path class="e ek" d="M572,921H585" marker-end="url(#ak)"/>
<path class="e ek" d="M604.5,916V873" marker-end="url(#ak)"/>
<path class="e ek" d="M604.5,851V795" marker-end="url(#ak)"/>
<path class="e ek" d="M530.5,629V647" marker-end="url(#ak)"/>
<path class="e ek d" d="M530.5,658V693" marker-end="url(#ak)"/>
<path class="e ek" d="M530.5,704V717" marker-end="url(#ak)"/>
<path class="e ek d" d="M530.5,728V781" marker-end="url(#ak)"/>
<path class="e ek d" d="M530.5,792V802" marker-end="url(#ak)"/>
<path class="e ek d" d="M530.5,832V846" marker-end="url(#ak)"/>
<path class="e ek d" d="M534,856L541,867" marker-end="url(#ak)"/>
<path class="e ek" d="M264.5,707V726" marker-end="url(#ak)"/>
<path class="e ek" d="M264.5,758V781" marker-end="url(#ak)"/>
<path class="e ek" d="M264.5,812V829" marker-end="url(#tk)"/>
<path class="e ek" d="M264.5,628V646" marker-end="url(#ak)"/>
</g>

<!-- ===== PANEL B nodes ===== -->
<g id="ADIPOQ"><rect class="b" x="23" y="613" width="37" height="10"/><text class="s" x="41.5" y="619.8">ADIPOQ</text></g>
<g id="ADIPOR"><polygon class="oc" points="24,637 58,637 65,644 65,660 58,667 24,667 17,660 17,644"/><rect class="b" x="23" y="642" width="37" height="10"/><text class="s" x="41.5" y="648.8">ADIPOR1</text><rect class="b" x="23" y="652" width="37" height="10"/><text class="s" x="41.5" y="658.8">ADIPOR2</text></g>
<g id="LEP"><rect class="b" x="73" y="618" width="37" height="10"/><text class="s" x="91.5" y="624.8">LEP</text></g>
<g id="LEPR"><rect class="b" x="73" y="647" width="37" height="10"/><text class="s" x="91.5" y="653.8">LEPR</text></g>
<g id="D-glucose"><rect class="bl" x="124" y="633" width="38" height="10"/><text class="s cb" x="143" y="639.8">D-glucose</text></g>
<g id="MLX"><polygon class="oc" points="126,665 159,665 167,673 167,699 159,707 126,707 118,699 118,673"/><rect class="b" x="124" y="670" width="37" height="10"/><text class="s" x="142.5" y="676.8">MLX</text><rect class="b" x="124" y="680" width="37" height="10"/><text class="s" x="142.5" y="686.8">MLXIP</text><rect class="b" x="124" y="690" width="37" height="10"/><text class="s" x="142.5" y="696.8">MLXIPL</text></g>
<g id="PRKA"><polygon class="oc" points="35,682 97,682 107,692 107,725 97,735 35,735 25,725 25,692"/>
<rect class="b" x="29" y="688" width="39" height="10.5"/><text class="s" x="48.5" y="695">PRKAA1</text>
<rect class="b" x="29" y="698.5" width="39" height="10.5"/><text class="s" x="48.5" y="705.5">PRKAA2</text>
<rect class="y" x="29" y="709" width="39" height="10.5"/><text class="s" x="48.5" y="716">PRKAB1</text>
<rect class="b" x="68" y="688" width="38" height="10.5"/><text class="s" x="87" y="695">PRKAB2</text>
<rect class="b" x="68" y="698.5" width="38" height="10.5"/><text class="s" x="87" y="705.5">PRKAG1</text>
<rect class="b" x="68" y="709" width="38" height="10.5"/><text class="s" x="87" y="716">PRKAG3</text>
<rect class="b" x="68" y="719.5" width="38" height="10.5"/><text class="s" x="87" y="726.5">PRKAG2</text></g>
<g id="PPARA"><rect class="b" x="26" y="748" width="37" height="10"/><text class="s" x="44.5" y="754.8">PPARA</text></g>
<g id="oxysterols"><rect class="bl" x="177" y="676" width="37" height="10"/><text class="s cb" x="195.5" y="682.8">oxysterols</text></g>
<g id="NR1H3"><rect class="b" x="177" y="712" width="37" height="10"/><text class="s" x="195.5" y="718.8">NR1H3</text></g>
<g id="RXRA"><rect class="b" x="177" y="748" width="37" height="10"/><text class="s" x="195.5" y="754.8">RXRA</text></g>
<g id="INS"><rect class="b" x="246" y="618" width="37" height="10"/><text class="s" x="264.5" y="624.8">INS</text></g>
<g id="INSR"><rect class="y" x="246" y="647" width="37" height="10"/><text class="s" x="264.5" y="653.8">INSR</text></g>
<g id="IRS"><rect class="b" x="249" y="687" width="37" height="10"/><text class="s" x="267.5" y="693.8">IRS1</text><rect class="y" x="249" y="697" width="37" height="10"/><text class="s" x="267.5" y="703.8">IRS2</text><circle cx="246" cy="686" r="2.8" fill="#fff" stroke="#777" stroke-width=".6"/><text class="s" x="246" y="687.6" font-size="3.8">P</text></g>
<g id="PI3K"><polygon class="oc" points="230,720 299,720 307,728 307,750 299,758 230,758 222,750 222,728"/>
<rect class="y" x="227" y="727" width="38" height="10.5"/><text class="s" x="246" y="734">PIK3CA</text>
<rect class="b" x="227" y="737.5" width="38" height="10.5"/><text class="s" x="246" y="744.5">PIK3CD</text>
<rect class="b" x="227" y="748" width="38" height="10.5"/><text class="s" x="246" y="755">PIK3CB</text>
<rect class="b" x="265" y="727" width="37" height="10.5"/><text class="s" x="283.5" y="734">PIK3R1</text>
<rect class="y" x="265" y="737.5" width="37" height="10.5"/><text class="s" x="283.5" y="744.5">PIK3R2</text>
<rect class="b" x="265" y="748" width="37" height="10.5"/><text class="s" x="283.5" y="755">PIK3R3</text></g>
<g id="AKT"><polygon class="oc" points="249,776 281,776 289,784 289,807 281,815 249,815 241,807 241,784"/>
<rect class="b" x="246" y="782" width="37" height="10"/><text class="s" x="264.5" y="788.8">AKT1</text>
<rect class="y" x="246" y="792" width="37" height="10"/><text class="s" x="264.5" y="798.8">AKT2</text>
<rect class="b" x="246" y="802" width="37" height="10"/><text class="s" x="264.5" y="808.8">AKT3</text></g>
<g id="GSK3"><polygon class="oc" points="248,828 281,828 289,836 289,850 281,858 248,858 240,850 240,836"/>
<rect class="y" x="246" y="833" width="37" height="10"/><text class="s" x="264.5" y="839.8">GSK3A</text>
<rect class="b" x="246" y="843" width="37" height="10"/><text class="s" x="264.5" y="849.8">GSK3B</text></g>
<g id="IL1"><rect class="b" x="296" y="602" width="38" height="10"/><text class="s" x="315" y="608.8">IL1A</text><rect class="b" x="296" y="612" width="38" height="10"/><text class="s" x="315" y="618.8">IL1B</text><rect class="b" x="296" y="622" width="38" height="10"/><text class="s" x="315" y="628.8">IL6</text></g>
<g id="IL6R"><rect class="b" x="296" y="647" width="38" height="10"/><text class="s" x="315" y="653.8">IL6R</text></g>
<g id="SOCS3"><rect class="b" x="296" y="684" width="38" height="10"/><text class="s" x="315" y="690.8">SOCS3</text></g>
<g id="TNF"><rect class="y" x="343" y="619" width="38" height="10"/><text class="s" x="362" y="625.8">TNF</text></g>
<g id="TNFR1"><rect class="b" x="343" y="647" width="38" height="10"/><text class="s" x="362" y="653.8">TNFR1</text></g>
<g id="NFKB"><polygon class="oc" points="345,670 380,670 387,677 387,693 380,700 345,700 338,693 338,677"/><rect class="b" x="344" y="676" width="37" height="10"/><text class="s" x="362.5" y="682.8">NFKB1</text><rect class="y" x="344" y="686" width="37" height="10"/><text class="s" x="362.5" y="692.8">RELA</text></g>
<g id="mir21"><rect x="321" y="726" width="37" height="10" fill="#fff" stroke="#b49af0" stroke-width=".8"/><text class="s" x="339.5" y="732.8" fill="#8a3ee0">mir21</text></g>
<g id="SMAD7"><rect class="b" x="321" y="752" width="37" height="10"/><text class="s" x="339.5" y="758.8">SMAD7</text></g>
<g id="fatty-acids"><rect class="bl" x="407" y="610" width="38" height="10"/><text class="s cb" x="426" y="616.8">fatty acids</text></g>
<g id="CDC42"><rect class="b" x="407" y="660" width="38" height="10"/><text class="s" x="426" y="666.8">CDC42</text><rect class="y" x="407" y="670" width="38" height="10"/><text class="s" x="426" y="676.8">RAC1</text></g>
<g id="MAP3K11"><rect class="b" x="407" y="697" width="38" height="10"/><text class="s" x="426" y="703.8">MAP3K11</text></g>
<g id="ITCH"><rect class="b" x="458" y="694" width="37" height="10"/><text class="s" x="476.5" y="700.8">ITCH</text></g>
<g id="JNK"><polygon class="oc" points="406,720 439,720 447,728 447,743 439,751 406,751 398,743 398,728"/><rect class="b" x="403" y="725" width="37" height="10.5"/><text class="s" x="421.5" y="732">JNK1</text><rect class="b" x="403" y="735.5" width="37" height="10.5"/><text class="s" x="421.5" y="742.5">JNK2</text></g>
<g id="IKBKB"><rect class="b" x="403" y="769" width="37" height="10"/><text class="s" x="421.5" y="775.8">IKBKB</text></g>
<g id="JUN"><rect class="y" x="372" y="787" width="37" height="10"/><text class="s" x="390.5" y="793.8">JUN</text></g>
<g id="selonsertib"><rect class="bl" x="381" y="806" width="37" height="10"/><text class="s cb" x="399.5" y="812.8">selonsertib</text></g>
<g id="MAP3K5"><rect class="b" x="431" y="814" width="37" height="10"/><text class="s" x="449.5" y="820.8">MAP3K5</text></g>
<g id="FXR"><rect class="b" x="321" y="839" width="29" height="11"/><text class="s" x="335.5" y="846.3">FXR</text></g>
<g id="XBP1"><rect class="b" x="378" y="843" width="37" height="10"/><text class="s" x="396.5" y="849.8">XBP1</text></g>
<g id="TRAF2"><rect class="b" x="431" y="843" width="37" height="10"/><text class="s" x="449.5" y="849.8">TRAF2</text></g>
<g id="ERN1"><rect class="b" x="431" y="879" width="37" height="10"/><text class="s" x="449.5" y="885.8">ERN1</text></g>
<g id="CEBPA"><rect class="b" x="329" y="892" width="37" height="10"/><text class="s" x="347.5" y="898.8">CEBPA</text></g>
<g id="CYP2E1"><rect class="b" x="457" y="897" width="37" height="10"/><text class="s" x="475.5" y="903.8">CYP2E1</text></g>
<g id="EIF2AK3"><rect class="b" x="431" y="916" width="37" height="10"/><text class="s" x="449.5" y="922.8">EIF2AK3</text></g>
<g id="EIF2S1"><rect class="b" x="482" y="916" width="37" height="10"/><text class="s" x="500.5" y="922.8">EIF2S1</text></g>
<g id="ATF4"><rect class="b" x="540" y="916" width="32" height="10"/><text class="s" x="556" y="922.8">ATF4</text></g>
<g id="DDIT3"><rect class="b" x="586" y="916" width="37" height="10"/><text class="s" x="604.5" y="922.8">DDIT3</text></g>
<g id="ROS"><rect class="bl" x="473" y="796" width="23" height="10"/><text class="s cb" x="484.5" y="802.8">ROS</text></g>
<g id="FASLG"><rect class="b" x="512" y="619" width="37" height="10"/><text class="s" x="530.5" y="625.8">FASLG</text></g>
<g id="FAS"><rect class="b" x="512" y="648" width="37" height="10"/><text class="s" x="530.5" y="654.8">FAS</text></g>
<g id="CASP8"><rect class="b" x="512" y="694" width="37" height="10"/><text class="s" x="530.5" y="700.8">CASP8</text></g>
<g id="BID"><rect class="b" x="512" y="718" width="37" height="10"/><text class="s" x="530.5" y="724.8">BID</text></g>
<g id="Mito-complexes"><rect class="b" x="543" y="753" width="17.5" height="10"/><text class="x" x="551.8" y="759.6">CxI</text><rect class="b" x="560.5" y="753" width="17.5" height="10"/><text class="x" x="569.3" y="759.6">CxII</text><rect class="b" x="578" y="753" width="18" height="10"/><text class="x" x="587" y="759.6">CxIII</text><rect class="b" x="596" y="753" width="18" height="10"/><text class="x" x="605" y="759.6">CxIV</text></g>
<g id="BAX"><rect class="b" x="586" y="774" width="37" height="10"/><text class="s" x="604.5" y="780.8">BAX</text><rect class="b" x="586" y="784" width="37" height="10"/><text class="s" x="604.5" y="790.8">BAK1</text></g>
<g id="CYCS"><rect class="b" x="512" y="782" width="37" height="10"/><text class="s" x="530.5" y="788.8">CYCS</text></g>
<g id="CASP3"><polygon class="oc" points="512,803 548,803 555,810 555,825 548,832 512,832 505,825 505,810"/><rect class="y" x="512" y="809" width="37" height="10"/><text class="s" x="530.5" y="815.8">CASP3</text><rect class="b" x="512" y="819" width="37" height="10"/><text class="s" x="530.5" y="825.8">CASP7</text></g>
<g id="BBC3"><rect class="b" x="586" y="851" width="37" height="10.5"/><text class="s" x="604.5" y="858">BBC3</text><rect class="b" x="586" y="861.5" width="37" height="10.5"/><text class="s" x="604.5" y="868.5">BIM</text></g>
<g id="Cytokines-injury"><rect class="y" x="501" y="883" width="47" height="10.5"/><text class="s" x="524.5" y="890">TNF</text><rect class="b" x="501" y="893.5" width="47" height="10.5"/><text class="s" x="524.5" y="900.5">FASLG</text><rect class="b" x="548" y="883" width="28" height="10.5"/><text class="s" x="562" y="890">CXCL8</text><rect class="y" x="548" y="893.5" width="28" height="10.5"/><text class="s" x="562" y="900.5">TGFB1</text></g>
<g id="SREBF1"><rect class="b" x="213" y="879" width="39" height="10"/><text class="s" x="232.5" y="885.8">SREBF1</text></g>
<g id="Lipogenic-Enzymes"><rect class="b" x="254" y="893" width="53" height="10"/><text class="s" x="280.5" y="899.8">Lipogenic Enzymes</text></g>
<g id="PKLR"><rect class="b" x="195" y="916" width="37" height="10"/><text class="s" x="213.5" y="922.8">PKLR</text></g>
<g id="Steatohepatitis-genes"><rect class="b" x="245" y="913" width="27" height="10.5"/><text class="s" x="258.5" y="920">CCL2</text><rect class="y" x="245" y="923.5" width="27" height="10.5"/><text class="s" x="258.5" y="930.5">VCAM1</text><rect class="b" x="272" y="913" width="23" height="10.5"/><text class="s" x="283.5" y="920">IL1A</text><rect class="b" x="272" y="923.5" width="23" height="10.5"/><text class="s" x="283.5" y="930.5">IL1B</text><rect class="y" x="295" y="913" width="25" height="10.5"/><text class="s" x="307.5" y="920">TNF</text><rect class="b" x="295" y="923.5" width="25" height="10.5"/><text class="s" x="307.5" y="930.5">IL6</text></g>

<g id="B-labels">
<text class="s cG" x="236" y="640">Insulin Signaling</text>
<text class="s cG" x="396" y="637">TNF Signaling</text>
<text class="s cG" x="44" y="780">PPAR Signaling</text>
<text class="s cG" x="232" y="771">PI3K-AKT Signaling</text>
<text class="s cG" x="340" y="782">TGF Signaling</text>
<text class="s cG" x="396" y="830">Fatty Acid Biosynthesis</text>
<text class="s cG" x="531" y="854">Apoptosis</text>
<text class="s cG" x="579" y="749">Oxidative Phosphorylation</text>
<text class="s cG" x="570" y="773">TCA Cycle</text>
<text x="610" y="670" font-size="6" font-weight="bold" fill="#98a8a0" text-anchor="middle">Hepatocyte</text>
<text class="s" x="503" y="754">Mitochondria</text>
<text class="s" x="503" y="760">dysfunction</text>
<text class="s" x="68" y="797">Glucose Uptake</text>
<text class="s" x="125" y="797.5">Fatty Acid Oxidation</text>
<text class="s" x="102" y="826.5">Development of NAFLD</text>
<text class="s" x="68" y="843.5">Insulin Resistance</text>
<text class="s" x="339" y="802.5">NASH</text>
<text class="s" x="339" y="808.5">Fibrogenesis</text>
<text class="s" x="429" y="903">ER Stress</text>
<text class="s" x="547" y="874.5">Hepatocyte injury</text>
<text class="s" x="282" y="941.5">Development of Steatohepatitis</text>
</g>

<!-- electron transport chain tables -->
<g id="CxI"><text class="x" x="733" y="601">CxI</text>
<rect class="b" x="676" y="605" width="38" height="10.4"/><text class="x" x="695" y="612">NDUFV1</text><rect class="b" x="714" y="605" width="38" height="10.4"/><text class="x" x="733" y="612">NDUFB11</text><rect class="b" x="752" y="605" width="38" height="10.4"/><text class="x" x="771" y="612">NDUFA10</text>
<rect class="b" x="676" y="615.4" width="38" height="10.4"/><text class="x" x="695" y="622.4">NDUFV2</text><rect class="b" x="714" y="615.4" width="38" height="10.4"/><text class="x" x="733" y="622.4">NDUFS1</text><rect class="y" x="752" y="615.4" width="38" height="10.4"/><text class="x" x="771" y="622.4">NDUFAB1</text>
<rect class="y" x="676" y="625.8" width="38" height="10.4"/><text class="x" x="695" y="632.8">NDUFV3</text><rect class="b" x="714" y="625.8" width="38" height="10.4"/><text class="x" x="733" y="632.8">NDUFS2</text><rect class="b" x="752" y="625.8" width="38" height="10.4"/><text class="x" x="771" y="632.8">NDUFA11</text>
<rect class="b" x="676" y="636.2" width="38" height="10.4"/><text class="x" x="695" y="643.2">NDUFA1</text><rect class="y" x="714" y="636.2" width="38" height="10.4"/><text class="x" x="733" y="643.2">NDUFS3</text><rect class="b" x="752" y="636.2" width="38" height="10.4"/><text class="x" x="771" y="643.2">NDUFA12</text>
<rect class="b" x="676" y="646.6" width="38" height="10.4"/><text class="x" x="695" y="653.6">NDUFA2</text><rect class="b" x="714" y="646.6" width="38" height="10.4"/><text class="x" x="733" y="653.6">NDUFS4</text><rect class="b" x="752" y="646.6" width="38" height="10.4"/><text class="x" x="771" y="653.6">NDUFA13</text>
<rect class="b" x="676" y="657" width="38" height="10.4"/><text class="x" x="695" y="664">NDUFA3</text><rect class="b" x="714" y="657" width="38" height="10.4"/><text class="x" x="733" y="664">NDUFS5</text><rect class="b" x="752" y="657" width="38" height="10.4"/><text class="x" x="771" y="664">NDUFB1</text>
<rect class="b" x="676" y="667.4" width="38" height="10.4"/><text class="x" x="695" y="674.4">NDUFA4</text><rect class="b" x="714" y="667.4" width="38" height="10.4"/><text class="x" x="733" y="674.4">NDUFS6</text><rect class="b" x="752" y="667.4" width="38" height="10.4"/><text class="x" x="771" y="674.4">NDUFB2</text>
<rect class="b" x="676" y="677.8" width="38" height="10.4"/><text class="x" x="695" y="684.8">NDUFA4L2</text><rect class="b" x="714" y="677.8" width="38" height="10.4"/><text class="x" x="733" y="684.8">NDUFS7</text><rect class="b" x="752" y="677.8" width="38" height="10.4"/><text class="x" x="771" y="684.8">NDUFB3</text>
<rect class="b" x="676" y="688.2" width="38" height="10.4"/><text class="x" x="695" y="695.2">NDUFA5</text><rect class="b" x="714" y="688.2" width="38" height="10.4"/><text class="x" x="733" y="695.2">NDUFS8</text><rect class="b" x="752" y="688.2" width="38" height="10.4"/><text class="x" x="771" y="695.2">NDUFB4</text>
<rect class="b" x="676" y="698.6" width="38" height="10.4"/><text class="x" x="695" y="705.6">NDUFA6</text><rect class="b" x="714" y="698.6" width="38" height="10.4"/><text class="x" x="733" y="705.6">NDUFC1</text><rect class="b" x="752" y="698.6" width="38" height="10.4"/><text class="x" x="771" y="705.6">NDUFB5</text>
<rect class="b" x="676" y="709" width="38" height="10.4"/><text class="x" x="695" y="716">NDUFA7</text><rect class="b" x="714" y="709" width="38" height="10.4"/><text class="x" x="733" y="716">NDUFC2</text><rect class="y" x="752" y="709" width="38" height="10.4"/><text class="x" x="771" y="716">NDUFB6</text>
<rect class="b" x="676" y="719.4" width="38" height="10.4"/><text class="x" x="695" y="726.4">NDUFA8</text><rect class="b" x="714" y="719.4" width="38" height="10.4"/><text class="x" x="733" y="726.4">NDUFB9</text><rect class="y" x="752" y="719.4" width="38" height="10.4"/><text class="x" x="771" y="726.4">NDUFB7</text>
<rect class="b" x="676" y="729.8" width="38" height="10.4"/><text class="x" x="695" y="736.8">NDUFA9</text><rect class="y" x="714" y="729.8" width="38" height="10.4"/><text class="x" x="733" y="736.8">NDUFB10</text><rect class="b" x="752" y="729.8" width="38" height="10.4"/><text class="x" x="771" y="736.8">NDUFB8</text>
<rect class="b" x="707" y="740.2" width="51" height="10.4"/><text class="x" x="732.5" y="747.2">NDUFC2-KCTD14</text></g>
<g id="CxII"><text class="x" x="691" y="761">CxII</text>
<rect class="b" x="673" y="765.5" width="38" height="10.4"/><text class="x" x="692" y="772.5">SDHA</text>
<rect class="b" x="673" y="775.9" width="38" height="10.4"/><text class="x" x="692" y="782.9">SDHB</text>
<rect class="b" x="673" y="786.3" width="38" height="10.4"/><text class="x" x="692" y="793.3">SDHC</text>
<rect class="b" x="673" y="796.7" width="38" height="10.4"/><text class="x" x="692" y="803.7">SDHD</text></g>
<g id="CxIII"><text class="x" x="754" y="761">CxIII</text>
<rect class="b" x="717" y="765.5" width="38" height="10.4"/><text class="x" x="736" y="772.5">CYC1</text><rect class="b" x="755" y="765.5" width="38" height="10.4"/><text class="x" x="774" y="772.5">UQCRFS1</text>
<rect class="b" x="717" y="775.9" width="38" height="10.4"/><text class="x" x="736" y="782.9">CYTB</text><rect class="b" x="755" y="775.9" width="38" height="10.4"/><text class="x" x="774" y="782.9">UQCRB</text>
<rect class="b" x="717" y="786.3" width="38" height="10.4"/><text class="x" x="736" y="793.3">UQCRC1</text><rect class="b" x="755" y="786.3" width="38" height="10.4"/><text class="x" x="774" y="793.3">UQCRQ</text>
<rect class="b" x="717" y="796.7" width="38" height="10.4"/><text class="x" x="736" y="803.7">UQCRC2</text><rect class="b" x="755" y="796.7" width="38" height="10.4"/><text class="x" x="774" y="803.7">UQCR10</text>
<rect class="b" x="717" y="807.1" width="38" height="10.4"/><text class="x" x="736" y="814.1">UQCRH</text><rect class="b" x="755" y="807.1" width="38" height="10.4"/><text class="x" x="774" y="814.1">UQCR11</text>
<rect class="b" x="717" y="817.5" width="38" height="10.4"/><text class="x" x="736" y="824.5">UQCRHL</text></g>
<g id="CxIV"><text class="x" x="731" y="840">CxIV</text>
<rect class="b" x="692" y="843" width="38" height="10.4"/><text class="x" x="711" y="850">COX3</text><rect class="y" x="730" y="843" width="38" height="10.4"/><text class="x" x="749" y="850">COX6B1</text>
<rect class="b" x="692" y="853.4" width="38" height="10.4"/><text class="x" x="711" y="860.4">COX1</text><rect class="b" x="730" y="853.4" width="38" height="10.4"/><text class="x" x="749" y="860.4">COX6B2</text>
<rect class="b" x="692" y="863.8" width="38" height="10.4"/><text class="x" x="711" y="870.8">COX2</text><rect class="b" x="730" y="863.8" width="38" height="10.4"/><text class="x" x="749" y="870.8">COX6C</text>
<rect class="b" x="692" y="874.2" width="38" height="10.4"/><text class="x" x="711" y="881.2">COX4I2</text><rect class="b" x="730" y="874.2" width="38" height="10.4"/><text class="x" x="749" y="881.2">COX7A1</text>
<rect class="b" x="692" y="884.6" width="38" height="10.4"/><text class="x" x="711" y="891.6">COX4I1</text><rect class="b" x="730" y="884.6" width="38" height="10.4"/><text class="x" x="749" y="891.6">COX7A2</text>
<rect class="b" x="692" y="895" width="38" height="10.4"/><text class="x" x="711" y="902">COX5A</text><rect class="b" x="730" y="895" width="38" height="10.4"/><text class="x" x="749" y="902">COX7A2L</text>
<rect class="b" x="692" y="905.4" width="38" height="10.4"/><text class="x" x="711" y="912.4">COX5B</text><rect class="b" x="730" y="905.4" width="38" height="10.4"/><text class="x" x="749" y="912.4">COX7B</text>
<rect class="b" x="692" y="915.8" width="38" height="10.4"/><text class="x" x="711" y="922.8">COX6A1</text><rect class="b" x="730" y="915.8" width="38" height="10.4"/><text class="x" x="749" y="922.8">COX7B2</text>
<rect class="b" x="692" y="926.2" width="38" height="10.4"/><text class="x" x="711" y="933.2">COX6A2</text><rect class="b" x="730" y="926.2" width="38" height="10.4"/><text class="x" x="749" y="933.2">COX7C</text>
<rect class="b" x="692" y="936.6" width="38" height="10.4"/><text class="x" x="711" y="943.6">COX8A</text><rect class="b" x="730" y="936.6" width="38" height="10.4"/><text class="x" x="749" y="943.6">COX8C</text></g>

<g id="caption-B"><text x="277" y="985" font-size="12.5" font-weight="bold" fill="#111">B</text><text class="cap" x="294" y="985" font-size="12.3">Nonalcoholic fatty liver disease (GSE48968).</text></g>
</svg>
